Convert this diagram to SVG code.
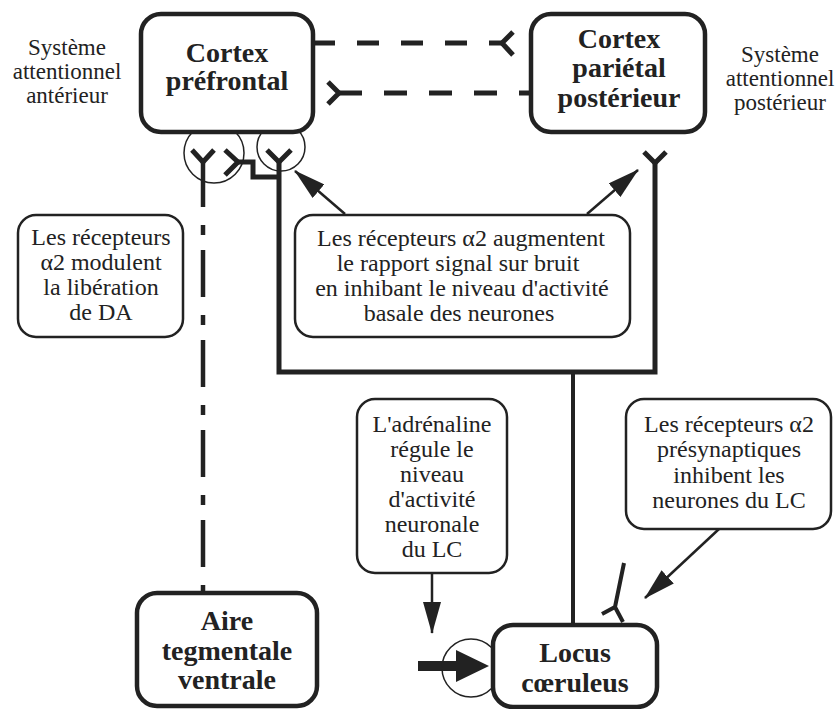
<svg xmlns="http://www.w3.org/2000/svg" width="840" height="709" viewBox="0 0 840 709" font-family="'Liberation Serif', 'Times New Roman', serif">
<style>
  .t { font-family: 'Liberation Serif', 'Times New Roman', serif; font-size: 24px; fill: #222; text-anchor: middle; }
  .s { font-family: 'Liberation Serif', 'Times New Roman', serif; font-size: 23px; fill: #222; text-anchor: middle; }
  .b { font-family: 'Liberation Serif', 'Times New Roman', serif; font-size: 28px; font-weight: bold; fill: #222; text-anchor: middle; }
  .big { fill: #fff; stroke: #222; stroke-width: 4.5; }
  .note { fill: #fff; stroke: #222; stroke-width: 2.5; }
  .ln { fill: none; stroke: #222; stroke-linecap: butt; stroke-linejoin: miter; }
  .rc { fill: none; stroke: #222; stroke-width: 5; stroke-linecap: butt; stroke-linejoin: miter; }
  .cir { fill: none; stroke: #222; stroke-width: 1.5; }
  .arr { fill: none; stroke: #222; stroke-width: 2.5; marker-end: url(#ah); }
</style>
<defs>
  <marker id="ah" markerUnits="userSpaceOnUse" markerWidth="32" markerHeight="18" refX="31" refY="9" orient="auto">
    <path d="M0,0 L32,9 L0,18 z" fill="#222"/>
  </marker>
</defs>

<g id="label-left">
  <text class="s" x="67" y="55">Système</text>
  <text class="s" x="67" y="79">attentionnel</text>
  <text class="s" x="67" y="103">antérieur</text>
</g>
<g id="label-right">
  <text class="s" x="780" y="62">Système</text>
  <text class="s" x="780" y="86">attentionnel</text>
  <text class="s" x="780" y="110">postérieur</text>
</g>

<g id="connectors">
  <line class="ln" x1="313" y1="43" x2="502" y2="43" stroke-width="5" stroke-dasharray="22 22"/>
  <path class="rc" d="M513,32 L502,43 L513,55"/>
  <line class="ln" x1="339" y1="93" x2="531" y2="93" stroke-width="5" stroke-dasharray="23 22"/>
  <path class="rc" d="M328,82 L339,93 L328,104"/>
  <line class="ln" x1="203" y1="160" x2="203" y2="593" stroke-width="4.5" stroke-dasharray="47 18 10 15"/>
  <path class="rc" d="M192,150 L203,162 L214,150"/>
  <path class="rc" d="M225,150 L238,162 L225,175"/>
  <path class="rc" d="M238,162 H253 V177 H279"/>
  <path class="rc" d="M267,150 L279,162 L291,150"/>
  <path class="rc" d="M279,162 V372 H655 V163"/>
  <path class="rc" d="M644,152 L655,163 L666,152"/>
  <line class="ln" x1="573" y1="372" x2="573" y2="626" stroke-width="4"/>
  <path class="ln" stroke-width="4" d="M624,563 L615,607 M602,614 L615,607 L623,622"/>
  <line class="arr" x1="345" y1="214" x2="295" y2="171"/>
  <line class="arr" x1="587" y1="214" x2="638" y2="170"/>
  <line class="arr" x1="432" y1="574" x2="432" y2="633"/>
  <line class="arr" x1="719" y1="529" x2="645" y2="598"/>
  <rect x="418" y="661" width="40" height="10" fill="#222"/>
  <polygon points="456,650 489,666 456,682" fill="#222"/>
  <circle class="cir" cx="214" cy="153" r="30"/>
  <circle class="cir" cx="281" cy="147" r="24"/>
  <circle class="cir" cx="471" cy="668" r="29"/>
</g>

<g id="pfc">
  <rect class="big" x="141" y="14" width="172" height="118" rx="20"/>
  <text class="b" x="227" y="62">Cortex</text>
  <text class="b" x="227" y="90">préfrontal</text>
</g>
<g id="ppc">
  <rect class="big" x="531" y="14" width="174" height="118" rx="20"/>
  <text class="b" x="619" y="48">Cortex</text>
  <text class="b" x="619" y="77">pariétal</text>
  <text class="b" x="619" y="107">postérieur</text>
</g>
<g id="note-da">
  <rect class="note" x="18" y="215" width="165" height="122" rx="18"/>
  <text class="t" x="101" y="245">Les récepteurs</text>
  <text class="t" x="101" y="270">α2 modulent</text>
  <text class="t" x="101" y="295">la libération</text>
  <text class="t" x="101" y="320">de DA</text>
</g>
<g id="note-signal">
  <rect class="note" x="295" y="215" width="335" height="122" rx="18"/>
  <text class="t" x="461" y="246">Les récepteurs α2 augmentent</text>
  <text class="t" x="458" y="271">le rapport signal sur bruit</text>
  <text class="t" x="462" y="296">en inhibant le niveau d'activité</text>
  <text class="t" x="459" y="321">basale des neurones</text>
</g>
<g id="note-adrenaline">
  <rect class="note" x="357" y="399" width="150" height="174" rx="18"/>
  <text class="t" x="432" y="432">L'adrénaline</text>
  <text class="t" x="432" y="457">régule le</text>
  <text class="t" x="432" y="482">niveau</text>
  <text class="t" x="432" y="507">d'activité</text>
  <text class="t" x="432" y="532">neuronale</text>
  <text class="t" x="432" y="557">du LC</text>
</g>
<g id="note-presyn">
  <rect class="note" x="626" y="399" width="205" height="130" rx="18"/>
  <text class="t" x="729" y="432">Les récepteurs α2</text>
  <text class="t" x="729" y="457">présynaptiques</text>
  <text class="t" x="729" y="483">inhibent les</text>
  <text class="t" x="729" y="508">neurones du LC</text>
</g>
<g id="atv">
  <rect class="big" x="137" y="593" width="180" height="113" rx="20"/>
  <text class="b" x="227" y="630">Aire</text>
  <text class="b" x="227" y="660">tegmentale</text>
  <text class="b" x="227" y="689">ventrale</text>
</g>
<g id="lc">
  <rect class="big" x="493" y="625" width="164" height="82" rx="20"/>
  <text class="b" x="575" y="662">Locus</text>
  <text class="b" x="575" y="692">cœruleus</text>
</g>
</svg>
